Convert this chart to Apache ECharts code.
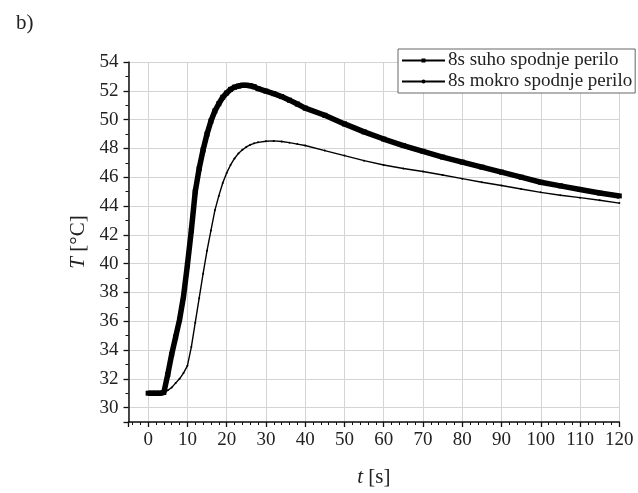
<!DOCTYPE html>
<html>
<head>
<meta charset="utf-8">
<script src="https://cdn.jsdelivr.net/npm/echarts@6/dist/echarts.min.js"></script>
<style>
html,body{margin:0;padding:0;background:#fff;}
#c{width:638px;height:493px;}
</style>
</head>
<body>
<div id="c"></div>
<script>
const panelLabel = 'b)';
const seriesNames = ['8s suho spodnje perilo', '8s mokro spodnje perilo'];
const xTitle = '{i|t} [s]';
const yTitle = '{i|T} [°C]';

const dryT = [0,1,2,3,4,5,6,7,8,9,10,11,12,13,14,15,16,17,18,19,20,21,22,23,24,25,26,27,28,30,32,34,36,38,40,45,50,55,60,65,70,75,80,85,90,95,100,105,110,115,120];
const dryV = [31.0,31.0,31.0,31.0,31.05,32.3,33.7,34.9,36.1,37.7,39.9,42.3,45.0,46.6,47.9,49.0,49.9,50.6,51.1,51.55,51.85,52.1,52.25,52.33,52.38,52.38,52.35,52.28,52.15,51.98,51.8,51.6,51.35,51.08,50.8,50.3,49.7,49.15,48.65,48.2,47.8,47.4,47.05,46.7,46.35,46.0,45.65,45.4,45.15,44.9,44.7];

const wetT = [0,1,2,3,4,5,6,7,8,9,10,11,12,13,14,15,16,17,18,19,20,21,22,23,24,25,26,27,28,30,32,34,36,38,40,45,50,55,60,65,70,75,80,85,90,95,100,105,110,115,120];
const wetV = [31.0,31.0,31.0,31.0,31.05,31.2,31.4,31.7,32.0,32.4,32.9,34.2,35.9,37.6,39.3,40.9,42.3,43.7,44.7,45.6,46.3,46.85,47.3,47.65,47.9,48.1,48.25,48.35,48.42,48.5,48.52,48.48,48.4,48.3,48.2,47.85,47.5,47.15,46.85,46.6,46.4,46.15,45.9,45.65,45.42,45.18,44.95,44.75,44.58,44.4,44.2];

const chart = echarts.init(document.getElementById('c'), null, {renderer: 'canvas'});
const serif = '"Liberation Serif", "Times New Roman", serif';
const txtColor = '#222';

chart.setOption({
  animation: false,
  backgroundColor: '#fff',
  title: {
    text: panelLabel, left: 11, top: 8,
    textStyle: {fontFamily: serif, fontSize: 21, fontWeight: 'normal', color: txtColor}
  },
  grid: {left: 128.5, right: 18.7, top: 62, bottom: 69.7, containLabel: false},
  legend: {
    orient: 'vertical', left: 398, top: 49,
    padding: [2, 3, 2, 3], itemGap: 2, itemWidth: 43, itemHeight: 5,
    borderColor: '#666', borderWidth: 1, backgroundColor: '#fff',
    textStyle: {fontFamily: serif, fontSize: 19, color: txtColor, padding: [0,0,0,-2]},
    data: seriesNames
  },
  xAxis: {
    type: 'value', min: -5, max: 120, splitNumber: 12,
    name: xTitle, nameLocation: 'middle', nameGap: 45,
    nameTextStyle: {fontFamily: serif, fontSize: 21, color: txtColor,
      rich: {i: {fontFamily: serif, fontSize: 21, fontStyle: 'italic', color: txtColor}}},
    axisLine: {onZero: false, lineStyle: {color: '#111', width: 1.5}},
    axisTick: {show: true, inside: false, length: 5, lineStyle: {color: '#111', width: 1.3}},
    minorTick: {show: true, splitNumber: 5, length: 3, lineStyle: {color: '#111', width: 1}},
    axisLabel: {fontFamily: serif, fontSize: 19, color: txtColor, margin: 9, showMinLabel: false,
      formatter: v => (v < 0 ? '' : String(v))},
    splitLine: {show: true, lineStyle: {color: '#d4d4d4', width: 1}}
  },
  yAxis: {
    type: 'value', min: 29, max: 54, splitNumber: 12,
    name: yTitle, nameLocation: 'middle', nameGap: 40, nameRotate: 90,
    nameTextStyle: {fontFamily: serif, fontSize: 21, color: txtColor,
      rich: {i: {fontFamily: serif, fontSize: 21, fontStyle: 'italic', color: txtColor}}},
    axisLine: {onZero: false, lineStyle: {color: '#111', width: 1.5}},
    axisTick: {show: true, inside: false, length: 5, lineStyle: {color: '#111', width: 1.3}},
    minorTick: {show: true, splitNumber: 2, length: 3, lineStyle: {color: '#111', width: 1}},
    axisLabel: {fontFamily: serif, fontSize: 19, color: txtColor, margin: 10, showMinLabel: false,
      formatter: v => (v % 2 === 0 ? String(v) : '')},
    splitLine: {show: true, lineStyle: {color: '#d4d4d4', width: 1}}
  },
  series: [
    {
      name: seriesNames[0], type: 'line',
      data: dryT.map((t, i) => [t, dryV[i]]),
      symbol: 'rect', symbolSize: 5, showSymbol: true,
      lineStyle: {color: '#000', width: 5.5},
      itemStyle: {color: '#000'},
      z: 3
    },
    {
      name: seriesNames[1], type: 'line',
      data: wetT.map((t, i) => [t, wetV[i]]),
      symbol: 'circle', symbolSize: 2, showSymbol: true,
      lineStyle: {color: '#000', width: 1.4},
      itemStyle: {color: '#000'},
      z: 2
    }
  ]
});
</script>
</body>
</html>
